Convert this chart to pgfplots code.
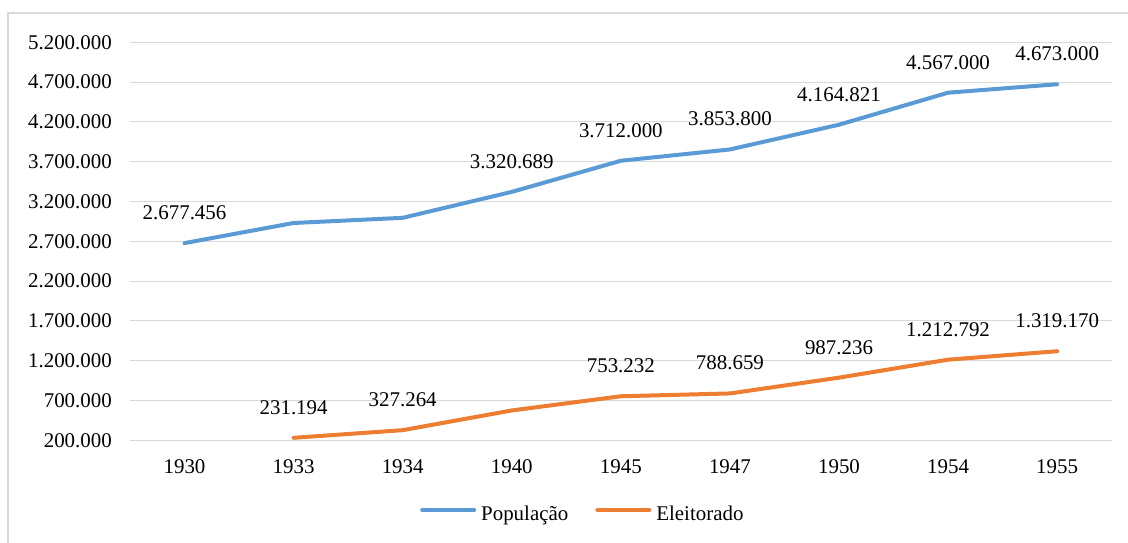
\documentclass[border=0pt]{standalone}
\usepackage{pgfplots}
\pgfplotsset{compat=1.18}
\usepackage{fontspec}
\setmainfont{Liberation Serif}
\definecolor{popblue}{RGB}{91,155,213}
\definecolor{eleorange}{RGB}{237,125,49}
\definecolor{gridgray}{RGB}{217,217,217}
\begin{document}
\fontsize{21}{25}\selectfont
\begin{tikzpicture}
\path[use as bounding box] (-130bp,-102.7bp) rectangle (998bp,440.3bp);
\draw[gridgray, line width=2bp] (-121.7bp,-110bp) -- (-121.7bp,427bp) -- (1010bp,427bp);
\begin{axis}[
  at={(0,0)}, anchor=south west,
  scale only axis, width=981.7bp, height=398bp,
  xmin=-0.5, xmax=8.5, ymin=200000, ymax=5200000,
  scaled y ticks=false,
  xtick={0,...,8},
  xticklabels={1930,1933,1934,1940,1945,1947,1950,1954,1955},
  ytick={200000,700000,1200000,1700000,2200000,2700000,3200000,3700000,4200000,4700000,5200000},
  yticklabels={200.000,700.000,1.200.000,1.700.000,2.200.000,2.700.000,3.200.000,3.700.000,4.200.000,4.700.000,5.200.000},
  axis line style={draw=none},
  tick style={draw=none},
  ymajorgrids,
  major grid style={color=gridgray, line width=1bp},
  every tick label/.append style={font=\fontsize{21}{25}\selectfont, text=black},
  y tick label style={anchor=east, inner sep=0pt, xshift=-18bp},
  x tick label style={anchor=center, inner sep=0pt, yshift=-26bp},
  clip=false,
  legend columns=2,
  legend image code/.code={\draw[line width=4bp, line cap=round] (0bp,5bp) -- (52bp,5bp);},
  legend style={at={(0.2954,-0.1877)}, anchor=west, draw=none, fill=none, inner sep=0pt,
    font=\fontsize{21}{25}\selectfont,
    nodes={inner sep=0pt},
    /tikz/every odd column/.append style={column sep=5bp},
    /tikz/every even column/.append style={column sep=27bp}},
]
\addplot[popblue, line width=4bp, line cap=round, line join=round] coordinates {
  (0,2677456) (1,2930000) (2,2995000) (3,3320689) (4,3712000)
  (5,3853800) (6,4164821) (7,4567000) (8,4673000)};
\addlegendentry{População}
\addplot[eleorange, line width=4bp, line cap=round, line join=round] coordinates {
  (1,231194) (2,327264) (3,575000) (4,753232) (5,788659)
  (6,987236) (7,1212792) (8,1319170)};
\addlegendentry{Eleitorado}
\addplot[draw=none, mark=none, forget plot, nodes near coords, point meta=explicit symbolic,
  every node near coord/.append style={inner sep=0pt, yshift=23bp, text=black, font=\fontsize{21}{25}\selectfont}]
  coordinates {
  (0,2677456) [2.677.456] (3,3320689) [3.320.689] (4,3712000) [3.712.000]
  (5,3853800) [3.853.800] (6,4164821) [4.164.821] (7,4567000) [4.567.000]
  (8,4673000) [4.673.000]
  (1,231194) [231.194] (2,327264) [327.264] (4,753232) [753.232]
  (5,788659) [788.659] (6,987236) [987.236] (7,1212792) [1.212.792]
  (8,1319170) [1.319.170]};
\end{axis}
\end{tikzpicture}
\end{document}
